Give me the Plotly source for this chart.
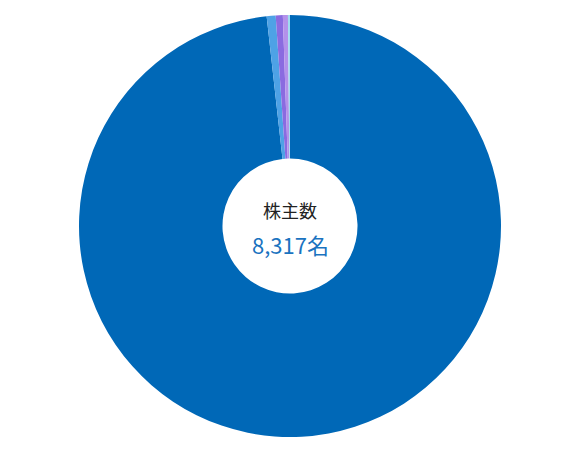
import plotly.graph_objects as go

# shareholder breakdown (persons)
categories = ["個人・その他", "その他の法人", "外国法人等", "金融商品取引業者", "金融機関"]
holders = [8170, 57, 45, 32, 13]
colors = ["#0068b7", "#4ea2e6", "#8a6be0", "#b391ea", "#9edcf0"]
total_label = "8,317名"

fig = go.Figure(
    go.Pie(
        labels=categories,
        values=holders,
        hole=0.32,
        sort=False,
        direction="clockwise",
        rotation=0,
        marker=dict(colors=colors, line=dict(width=0)),
        textinfo="none",
        hoverinfo="label+value",
        showlegend=False,
    )
)

fig.add_annotation(x=0.5, y=0.538, xref="paper", yref="paper", text="株主数",
                   showarrow=False, font=dict(size=18, color="#222222"))
fig.add_annotation(x=0.5, y=0.457, xref="paper", yref="paper", text=total_label,
                   showarrow=False, font=dict(size=22, color="#1a73c0"))

fig.update_layout(
    width=577,
    height=450,
    margin=dict(l=0, r=13, t=7, b=21),
    paper_bgcolor="white",
    font=dict(family="Noto Sans CJK JP"),
)

fig.write_html("out.html")
